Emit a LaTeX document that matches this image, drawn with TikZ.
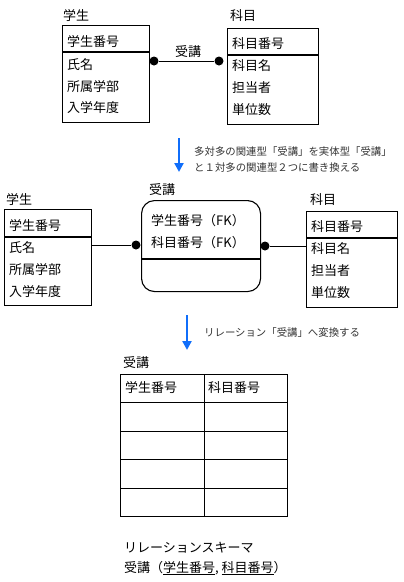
\documentclass[tikz,border=0pt]{standalone}
\usepackage{fontspec}
\setmainfont{Noto Sans CJK JP}
\usetikzlibrary{arrows.meta}
\definecolor{convblue}{RGB}{16,110,250}
\def\bigfont{\fontsize{13}{15}\selectfont}
\def\smallfont{\fontsize{10.4}{12}\selectfont}
\tikzset{
  entity/.style={draw, line width=1.1pt, anchor=north west, inner sep=0pt},
  attr/.style={anchor=west, inner sep=0pt, font=\bigfont},
  entname/.style={anchor=west, inner sep=0pt, font=\bigfont},
  dot/.style={circle, fill, inner sep=0pt, minimum size=9pt},
  note/.style={anchor=west, inner sep=0pt, font=\smallfont, text=black!80},
  convarrow/.style={line width=2.6pt, convblue, -{Triangle[width=9pt,length=9pt]}}
}

\begin{document}
\begin{tikzpicture}[x=1pt,y=-1pt]
\useasboundingbox (0,0) rectangle (404,582);

% top: many-to-many relationship
\node[entname] (stuName) at (63,16) {学生};
\node[entity, minimum width=87pt, minimum height=97pt] (stu) at (62,25) {};
\draw[line width=1.1pt] (62,52) -- (149,52);
\node[attr] (stuKey) at (67,42) {学生番号};
\node[attr] (stuA) at (67,65) {氏名};
\node[attr] (stuB) at (67,87) {所属学部};
\node[attr] (stuC) at (67,108) {入学年度};

\node[entname] (subName) at (230,16) {科目};
\node[entity, minimum width=91pt, minimum height=96pt] (sub) at (227,28) {};
\draw[line width=1.1pt] (227,55) -- (318,55);
\node[attr] (subKey) at (232,44) {科目番号};
\node[attr] (subA) at (232,66) {科目名};
\node[attr] (subB) at (232,88) {担当者};
\node[attr] (subC) at (232,110) {単位数};

\node[dot] (d1) at (154,61) {};
\node[dot] (d2) at (219,61) {};
\draw[line width=1pt] (d1) -- (d2);
\node[entname] (relName) at (175,52) {受講};

% first conversion
\coordinate (a1) at (179,138);
\coordinate (a1e) at (179,172);
\draw[convarrow] (a1) -- (a1e);
\node[note] (n1) at (194,152) {多対多の関連型「受講」を実体型「受講」};
\node[note] (n2) at (194,168) {と１対多の関連型２つに書き換える};

% middle: entity type 受講
\node[entname] (stuName2) at (6,200) {学生};
\node[entity, minimum width=87pt, minimum height=96pt] (stu2) at (4,209) {};
\draw[line width=1.1pt] (4,237) -- (91,237);
\node[attr] (stuKey2) at (9,226) {学生番号};
\node[attr] (stuA2) at (9,248) {氏名};
\node[attr] (stuB2) at (9,270) {所属学部};
\node[attr] (stuC2) at (9,292) {入学年度};

\node[entname] (enrName) at (149,190) {受講};
\node[entity, rounded corners=13pt, minimum width=119pt, minimum height=91pt] (enr) at (141,200) {};
\draw[line width=1.1pt] (141,259) -- (260,259);
\node[attr] (enrA) at (151,221) {学生番号（FK）};
\node[attr] (enrB) at (151,243) {科目番号（FK）};

\node[entname] (subName2) at (310,200) {科目};
\node[entity, minimum width=91pt, minimum height=96pt] (sub2) at (306,211) {};
\draw[line width=1.1pt] (306,238) -- (397,238);
\node[attr] (subKey2) at (311,227) {科目番号};
\node[attr] (subA2) at (311,249) {科目名};
\node[attr] (subB2) at (311,271) {担当者};
\node[attr] (subC2) at (311,293) {単位数};

\node[dot] (d3) at (136,245) {};
\node[dot] (d4) at (265,246) {};
\draw[line width=1pt] (stu2.east |- d3) -- (d3);
\draw[line width=1pt] (d4) -- (sub2.west |- d4);

% second conversion
\coordinate (a2) at (187,315);
\coordinate (a2e) at (187,350);
\draw[convarrow] (a2) -- (a2e);
\node[note] (n3) at (204,333) {リレーション「受講」へ変換する};

% relation table
\node[entname] (tabName) at (123,363) {受講};
\draw[line width=1pt] (120,374) rectangle (287,516);
\draw[line width=1pt] (204,374) -- (204,516);
\foreach \y in {402,431,459,488}
  \draw[line width=1pt] (120,\y) -- (287,\y);
\node[attr] (colA) at (125,388) {学生番号};
\node[attr] (colB) at (208,388) {科目番号};

% schema
\node[attr] (schTitle) at (124,548) {リレーションスキーマ};
\node[attr] (sch) at (124,568) {受講（\underline{学生番号}, \underline{科目番号}）};

\end{tikzpicture}
\end{document}
